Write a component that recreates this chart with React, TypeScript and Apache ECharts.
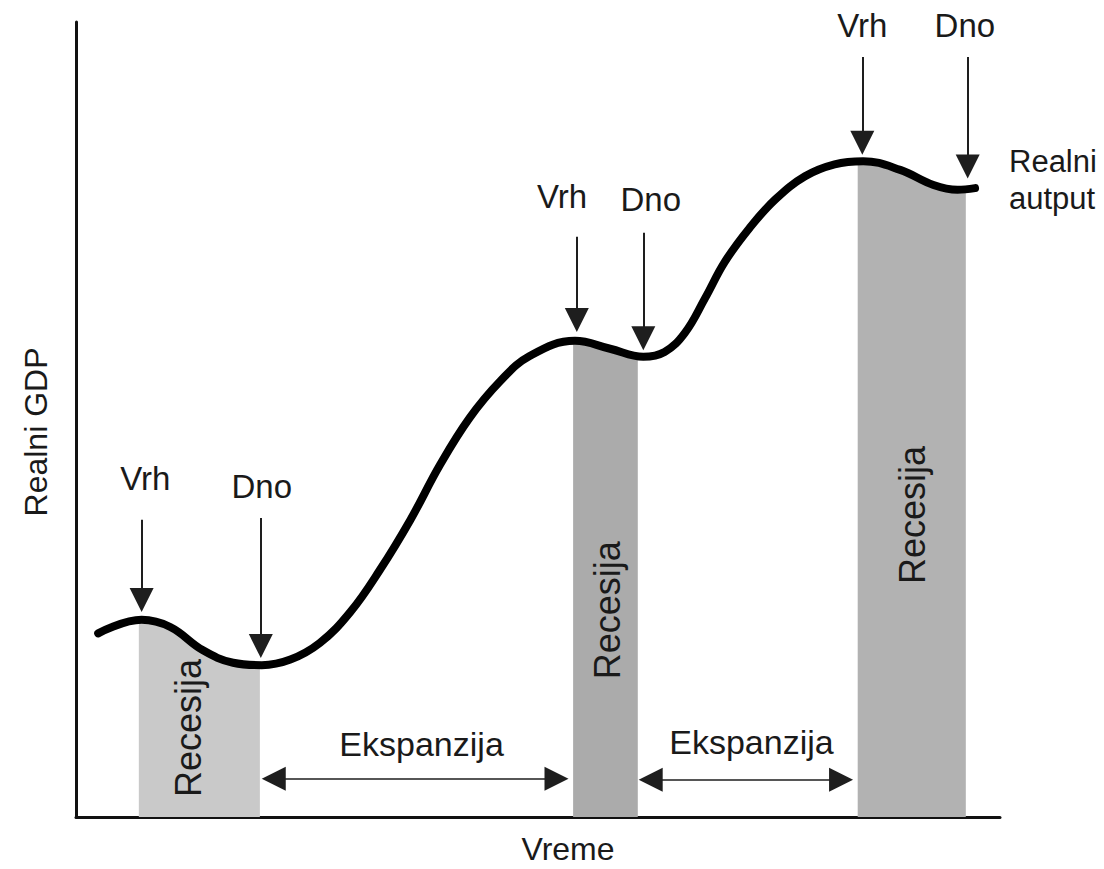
import React, { useEffect, useRef } from "react";
import * as echarts from "echarts";

const curveX = [2.4, 7.1, 10.2, 13.7, 17.0, 20.1, 23.2, 26.4, 29.7, 32.9, 36.2, 39.4, 42.6, 45.9, 49.1, 54.0, 57.8, 61.4, 63.7, 65.9, 68.1, 70.2, 72.9, 75.7, 78.9, 82.1, 85.2, 89.2, 92.8, 95.4, 97.3];
const curveY = [23.1, 24.8, 23.9, 21.0, 19.4, 19.1, 19.8, 21.9, 25.8, 31.1, 37.4, 44.3, 50.2, 54.8, 58.0, 59.9, 58.9, 57.9, 58.5, 60.9, 65.3, 69.8, 74.1, 77.7, 80.6, 82.1, 82.5, 81.4, 79.5, 78.9, 79.1];

// Recession bands (shaded under the curve)
const recession1 = [[6.8, 24.8], [10.2, 23.9], [13.7, 21.0], [17.0, 19.4], [19.9, 19.1]];
const recession2 = [[53.8, 59.9], [57.8, 58.9], [60.8, 57.9]];
const recession3 = [[84.6, 82.5], [89.2, 81.4], [92.8, 79.5], [95.4, 78.9], [96.3, 78.9]];
const recessionColors = ["#c9c9c9", "#ababab", "#b2b2b2"];

// Peak / trough pointers: [x, top of arrow, tip]
const pointerNames = ["Vrh", "Dno", "Vrh", "Dno", "Vrh", "Dno"];
const pointerX = [7.1, 20.0, 54.2, 61.4, 85.1, 96.5];
const pointerTop = [37.4, 37.6, 73.0, 73.5, 95.6, 95.6];
const pointerTip = [25.8, 20.0, 61.0, 58.7, 83.3, 80.3];
const pointerLabelPos = [[7.5, 42.6], [20.1, 41.6], [52.6, 78.0], [62.2, 77.7], [85.1, 99.5], [96.2, 99.5]];

// Expansion spans: [from, to, level]
const expansions = [[20.1, 53.3, 4.8], [60.9, 84.1, 4.7]];
const expansionLabelPos = [[37.4, 9.2], [73.1, 9.4]];
const recessionLabelPos = [[12.2, 11.2], [57.5, 26.0], [90.5, 38.0]];

const FONT = "'Liberation Sans', Arial, Helvetica, sans-serif";
const TXT = "#1a1a1a";

const GRID = { left: 76, right: 104, top: 22, bottom: 52 };
const W = 1104;
const H = 869;
const HEAD = 24;

export default function App() {
  const ref = useRef<HTMLDivElement>(null);
  useEffect(() => {
    if (!ref.current) return;
    const chart = echarts.init(ref.current, null, { renderer: "svg" });
    const curve = curveX.map((x, i) => [x, curveY[i]]);

    // arrow heads are centred on the line end: pull the end back by half a head
    const unitX = (W - GRID.left - GRID.right) / 100;
    const unitY = (H - GRID.top - GRID.bottom) / 100;
    const hx = HEAD / 2 / unitX;
    const hy = HEAD / 2 / unitY;

    const arrowLines: any[] = pointerX.map((x, i) => [
      { coord: [x, pointerTop[i]], symbol: "none" },
      { coord: [x, pointerTip[i] + hy], symbol: "triangle" },
    ]);
    expansions.forEach(([a, b, y]) => {
      arrowLines.push([
        { coord: [a + hx, y], symbol: "triangle", lineStyle: { width: 1.5 } },
        { coord: [b - hx, y], symbol: "triangle" },
      ]);
    });

    const textPoints: any[] = [];
    pointerNames.forEach((n, i) => {
      textPoints.push({ coord: pointerLabelPos[i], name: n, label: { formatter: n, fontSize: 33 } });
    });
    expansionLabelPos.forEach((p) => {
      textPoints.push({ coord: p, name: "Ekspanzija", label: { formatter: "Ekspanzija", fontSize: 34 } });
    });
    recessionLabelPos.forEach((p) => {
      textPoints.push({ coord: p, name: "Recesija", label: { formatter: "Recesija", fontSize: 36, rotate: 90 } });
    });

    const areaSeries = [recession1, recession2, recession3].map((d, i) => ({
      type: "line",
      data: d,
      smooth: 0.4,
      symbol: "none",
      lineStyle: { width: 0 },
      areaStyle: { color: recessionColors[i], opacity: 1 },
      z: 2,
      silent: true,
    }));

    chart.setOption({
      animation: false,
      backgroundColor: "#ffffff",
      grid: GRID,
      xAxis: {
        type: "value",
        min: 0,
        max: 100,
        axisLine: { show: true, onZero: false, lineStyle: { color: "#111", width: 3 } },
        axisTick: { show: false },
        axisLabel: { show: false },
        splitLine: { show: false },
      },
      yAxis: {
        type: "value",
        min: 0,
        max: 100,
        axisLine: { show: true, onZero: false, lineStyle: { color: "#111", width: 3 } },
        axisTick: { show: false },
        axisLabel: { show: false },
        splitLine: { show: false },
      },
      graphic: [
        {
          type: "text",
          x: 36,
          y: 432,
          rotation: Math.PI / 2,
          style: { text: "Realni GDP", font: `32px ${FONT}`, fill: TXT, align: "center", verticalAlign: "middle" },
        },
        {
          type: "text",
          x: 568,
          y: 849,
          style: { text: "Vreme", font: `32px ${FONT}`, fill: TXT, align: "center", verticalAlign: "middle" },
        },
        {
          type: "text",
          x: 1009,
          y: 161,
          style: { text: "Realni", font: `31px ${FONT}`, fill: TXT, align: "left", verticalAlign: "middle" },
        },
        {
          type: "text",
          x: 1009,
          y: 198,
          style: { text: "autput", font: `31px ${FONT}`, fill: TXT, align: "left", verticalAlign: "middle" },
        },
      ],
      series: [
        ...areaSeries,
        {
          type: "line",
          data: curve,
          smooth: 0.4,
          symbol: "none",
          lineStyle: { color: "#000", width: 8, cap: "round" },
          z: 5,
          silent: true,
          markLine: {
            silent: true,
            symbolSize: HEAD,
            lineStyle: { color: "#1e1e1e", width: 2, type: "solid" },
            label: { show: false },
            data: arrowLines,
          },
          markPoint: {
            silent: true,
            symbol: "circle",
            symbolSize: 0,
            itemStyle: { color: "transparent" },
            label: {
              show: true,
              position: "inside",
              color: TXT,
              fontFamily: FONT,
            },
            data: textPoints,
          },
        },
      ],
    });
    return () => chart.dispose();
  }, []);
  return <div ref={ref} style={{ position: "absolute", left: 0, top: 0, width: W, height: H }} />;
}
